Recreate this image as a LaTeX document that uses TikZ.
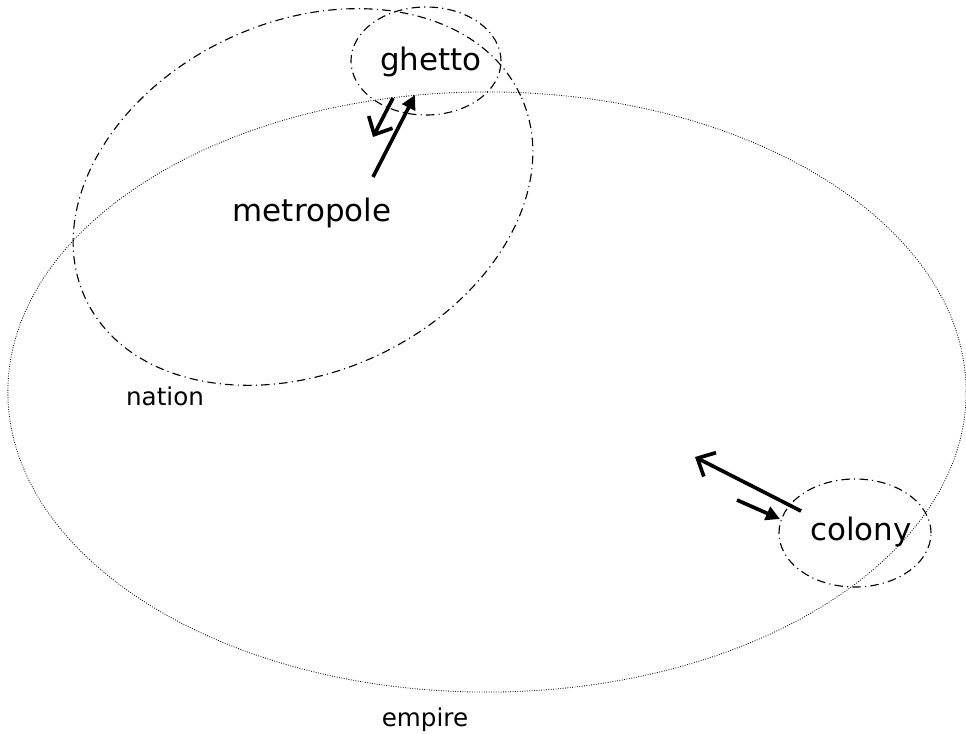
\documentclass[tikz,border=0pt]{standalone}
\usepackage{fontspec}
\setmainfont{DejaVu Sans}
\usetikzlibrary{shapes.geometric, arrows.meta}
\tikzstyle{empirering} = [ellipse, draw=black, line width=0.6pt, dash pattern=on 0.6pt off 1.1pt, inner sep=0pt, minimum width=23.95cm, minimum height=15cm]
\tikzstyle{dashring} = [ellipse, draw=black, line width=0.8pt, dash pattern=on 6pt off 3pt on 0.8pt off 3pt, inner sep=0pt]
\tikzstyle{biglabel} = [anchor=base, font=\fontsize{22}{26}\selectfont]
\tikzstyle{smalllabel} = [anchor=base, font=\fontsize{17.5}{21}\selectfont]
\tikzstyle{openarrow} = [line width=2.6pt, -{Straight Barb[length=10pt, width=19pt, line width=2.6pt]}]
\tikzstyle{fillarrow} = [line width=2.6pt, -{Triangle[length=10pt, width=10pt]}]

\begin{document}
\begin{tikzpicture}[x=0.025cm, y=-0.025cm]
		\useasboundingbox (0,0) rectangle (966,734);
		% rings
		\node (empire) [empirering] at (487,392) {};
		\node (nation) [dashring, minimum width=12cm, minimum height=8.75cm, rotate=25] at (303,197) {};
		\node (ghetto) [dashring, minimum width=3.75cm, minimum height=2.7cm] at (426,61) {};
		\node (colony) [dashring, minimum width=3.8cm, minimum height=2.7cm] at (855,533) {};
		% labels
		\node (ghettolabel) [biglabel] at (431,71) {ghetto};
		\node (metropolelabel) [biglabel] at (312,222) {metropole};
		\node (colonylabel) [biglabel] at (861,540) {colony};
		\node (nationlabel) [smalllabel] at (165,406) {nation};
		\node (empirelabel) [smalllabel] at (425,726) {empire};
		% flows
		\coordinate (ghettoout) at (393,98);
		\coordinate (metropolein) at (373,137);
		\coordinate (metropoleout) at (373,177);
		\coordinate (ghettoin) at (415,95);
		\coordinate (colonyout) at (801,511);
		\coordinate (empirein) at (695,457);
		\coordinate (empireout) at (737,500);
		\coordinate (colonyin) at (780,519);
		\draw [openarrow] (ghettoout) -- (metropolein);
		\draw [fillarrow] (metropoleout) -- (ghettoin);
		\draw [openarrow] (colonyout) -- (empirein);
		\draw [fillarrow] (empireout) -- (colonyin);
	\end{tikzpicture}
\end{document}
